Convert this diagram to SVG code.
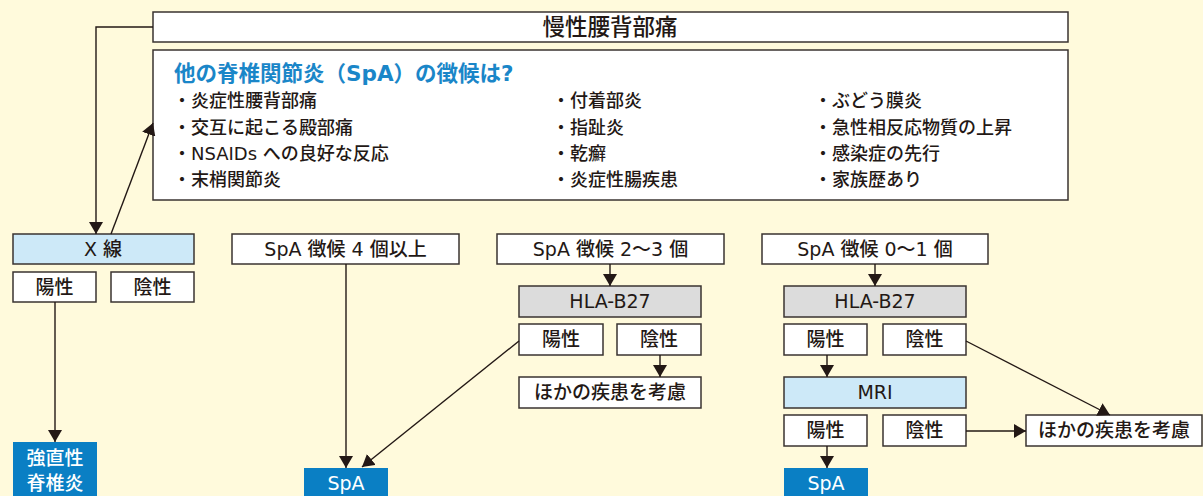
<svg xmlns="http://www.w3.org/2000/svg" width="1203" height="496" viewBox="0 0 1203 496">
<style>
.bx{fill:#ffffff;stroke:#3a3330;stroke-width:1.5}
.lb{fill:#cde9f8;stroke:#3a3330;stroke-width:1.5}
.gy{fill:#dcdcdc;stroke:#3a3330;stroke-width:1.5}
.bl{fill:#0a7fc4}
.t{font-family:"DejaVu Sans","Noto Sans CJK JP",sans-serif;font-size:19px;font-weight:500;fill:#231815;text-anchor:middle}
.tw{font-family:"DejaVu Sans","Noto Sans CJK JP",sans-serif;font-size:19px;font-weight:500;fill:#ffffff;text-anchor:middle}
.it{font-family:"DejaVu Sans","Noto Sans CJK JP",sans-serif;font-size:18px;font-weight:500;fill:#231815}
.ttl{font-family:"DejaVu Sans","Noto Sans CJK JP",sans-serif;font-size:21.5px;font-weight:bold;fill:#1a86c8}
.cn{fill:none;stroke:#231815;stroke-width:1.4}
</style>
<defs>
<marker id="ah" markerUnits="userSpaceOnUse" markerWidth="12" markerHeight="14" refX="12" refY="7" orient="auto">
<path d="M0,0 L12,7 L0,14 z" fill="#231815"/>
</marker>
</defs>
<rect width="1203" height="496" fill="#fffadc"/>

<g id="n-main">
<rect class="bx" x="153" y="12" width="915" height="30"/>
<text class="t" x="610" y="35" style="font-size:22.5px">慢性腰背部痛</text>
</g>
<g id="n-signs">
<rect class="bx" x="153" y="50" width="915" height="150"/>
<text class="ttl" x="174" y="81">他の脊椎関節炎（SpA）の徴候は?</text>
<text class="it" x="173" y="107">・炎症性腰背部痛</text>
<text class="it" x="173" y="134">・交互に起こる殿部痛</text>
<text class="it" x="173" y="160">・NSAIDs への良好な反応</text>
<text class="it" x="173" y="186">・末梢関節炎</text>
<text class="it" x="552" y="107">・付着部炎</text>
<text class="it" x="552" y="134">・指趾炎</text>
<text class="it" x="552" y="160">・乾癬</text>
<text class="it" x="552" y="186">・炎症性腸疾患</text>
<text class="it" x="814" y="107">・ぶどう膜炎</text>
<text class="it" x="814" y="134">・急性相反応物質の上昇</text>
<text class="it" x="814" y="160">・感染症の先行</text>
<text class="it" x="814" y="186">・家族歴あり</text>
</g>

<g id="n-xray"><rect class="lb" x="13" y="234" width="181" height="30"/><text class="t" x="103" y="256">X 線</text></g>
<g id="n-xray-pos"><rect class="bx" x="13" y="272" width="83" height="30"/><text class="t" x="54.5" y="294">陽性</text></g>
<g id="n-xray-neg"><rect class="bx" x="111" y="272" width="83" height="30"/><text class="t" x="152.5" y="294">陰性</text></g>
<g id="n-as"><rect class="bl" x="13" y="442" width="84" height="60"/><text class="tw" x="55" y="465">強直性</text><text class="tw" x="55" y="490">脊椎炎</text></g>

<g id="n-4"><rect class="bx" x="232" y="234" width="227" height="30"/><text class="t" x="345.5" y="256">SpA 徴候 4 個以上</text></g>
<g id="n-spa1"><rect class="bl" x="304" y="468" width="84" height="32"/><text class="tw" x="346" y="490">SpA</text></g>

<g id="n-23"><rect class="bx" x="497" y="234" width="227" height="30"/><text class="t" x="610.5" y="256">SpA 徴候 2～3 個</text></g>
<g id="n-hla1"><rect class="gy" x="519" y="286" width="182" height="31"/><text class="t" x="610" y="308">HLA-B27</text></g>
<g id="n-hla1-pos"><rect class="bx" x="519" y="324" width="84" height="31"/><text class="t" x="561" y="346">陽性</text></g>
<g id="n-hla1-neg"><rect class="bx" x="617" y="324" width="84" height="31"/><text class="t" x="659" y="346">陰性</text></g>
<g id="n-other1"><rect class="bx" x="519" y="377" width="182" height="31"/><text class="t" x="610" y="399">ほかの疾患を考慮</text></g>

<g id="n-01"><rect class="bx" x="762" y="234" width="226" height="30"/><text class="t" x="875" y="256">SpA 徴候 0～1 個</text></g>
<g id="n-hla2"><rect class="gy" x="784" y="286" width="182" height="31"/><text class="t" x="875" y="308">HLA-B27</text></g>
<g id="n-hla2-pos"><rect class="bx" x="784" y="324" width="83" height="31"/><text class="t" x="825.5" y="346">陽性</text></g>
<g id="n-hla2-neg"><rect class="bx" x="883" y="324" width="83" height="31"/><text class="t" x="924.5" y="346">陰性</text></g>
<g id="n-mri"><rect class="lb" x="784" y="377" width="182" height="31"/><text class="t" x="875" y="399">MRI</text></g>
<g id="n-mri-pos"><rect class="bx" x="784" y="415" width="83" height="31"/><text class="t" x="825.5" y="437">陽性</text></g>
<g id="n-mri-neg"><rect class="bx" x="883" y="415" width="83" height="31"/><text class="t" x="924.5" y="437">陰性</text></g>
<g id="n-spa2"><rect class="bl" x="784" y="468" width="84" height="32"/><text class="tw" x="826" y="490">SpA</text></g>
<g id="n-other2"><rect class="bx" x="1026" y="415" width="176" height="31"/><text class="t" x="1114" y="437">ほかの疾患を考慮</text></g>

<g id="connectors">
<polyline class="cn" points="153,27 96,27 96,234" marker-end="url(#ah)"/>
<line class="cn" x1="111" y1="234" x2="153" y2="123" marker-end="url(#ah)"/>
<line class="cn" x1="55" y1="302" x2="55" y2="442" marker-end="url(#ah)"/>
<line class="cn" x1="346" y1="264" x2="346" y2="468" marker-end="url(#ah)"/>
<line class="cn" x1="519" y1="341" x2="362" y2="467" marker-end="url(#ah)"/>
<line class="cn" x1="610" y1="264" x2="610" y2="286" marker-end="url(#ah)"/>
<line class="cn" x1="660" y1="355" x2="660" y2="377" marker-end="url(#ah)"/>
<line class="cn" x1="875" y1="264" x2="875" y2="286" marker-end="url(#ah)"/>
<line class="cn" x1="827" y1="355" x2="827" y2="377" marker-end="url(#ah)"/>
<line class="cn" x1="827" y1="446" x2="827" y2="468" marker-end="url(#ah)"/>
<line class="cn" x1="966" y1="431" x2="1026" y2="431" marker-end="url(#ah)"/>
<line class="cn" x1="966" y1="341" x2="1110" y2="415" marker-end="url(#ah)"/>
</g>
</svg>
